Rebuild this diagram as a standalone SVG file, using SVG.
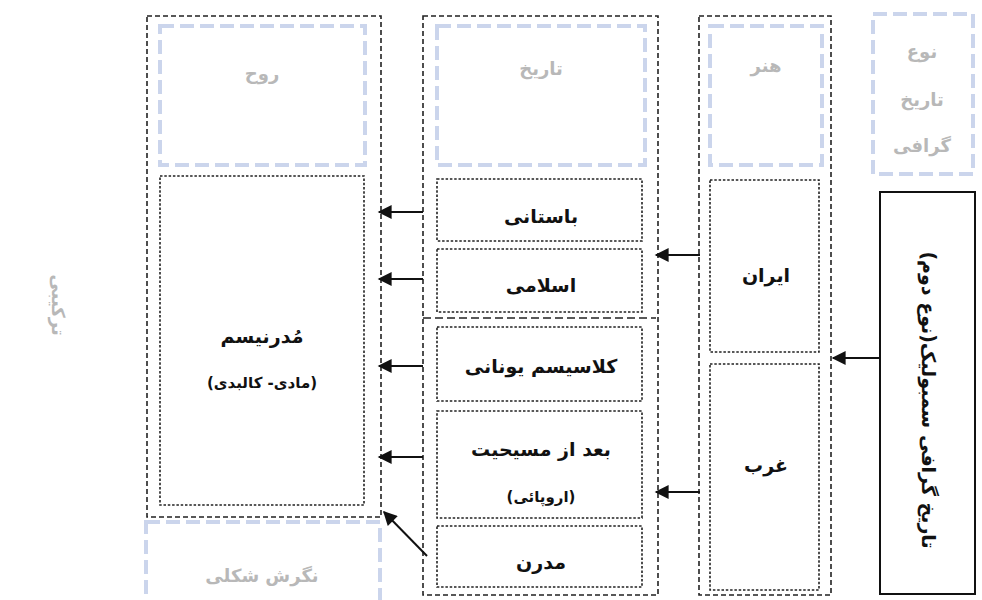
<svg xmlns="http://www.w3.org/2000/svg" width="982" height="600" viewBox="0 0 982 600">
<defs>
<style>
.outer{fill:none;stroke:#222;stroke-width:1.6;stroke-dasharray:5 3}
.inner{fill:#fff;stroke:#222;stroke-width:1.6;stroke-dasharray:2.5 1.8}
.faint{fill:#fff;stroke:#cbd5ec;stroke-width:4;stroke-dasharray:14 6}
.t{font-family:"DejaVu Sans",sans-serif;font-weight:bold;font-size:19px;fill:#111;text-anchor:middle}
.s{font-size:15px}
.g{font-family:"DejaVu Sans",sans-serif;font-weight:bold;font-size:18px;fill:#b8b8b8;text-anchor:middle}
.con{stroke:#111;stroke-width:2;fill:none}
</style>
<marker id="ah" viewBox="0 0 10 10" refX="9" refY="5" markerWidth="8.5" markerHeight="7" markerUnits="strokeWidth" orient="auto">
<path d="M0,0 L10,5 L0,10 z" fill="#111"/>
</marker>
</defs>
<rect width="982" height="600" fill="#fff"/>

<g id="col-left">
<rect class="outer" x="147" y="16" width="234" height="501"/>
<g id="n-ruh"><rect class="faint" x="160" y="26" width="205" height="139"/><text class="g" x="262" y="80">روح</text></g>
<g id="n-modernism"><rect class="inner" x="160" y="176" width="204" height="329"/>
<text class="t" x="262" y="343">مُدرنیسم</text>
<text class="t s" x="262" y="388">(مادی- کالبدی)</text></g>
</g>
<g id="n-negaresh"><rect class="faint" x="146" y="522" width="234" height="82"/><text class="g" x="262" y="582">نگرش شکلی</text></g>
<g id="n-tarkibi"><text class="g" transform="translate(52,305) rotate(90)" font-size="16">ترکیبی</text></g>

<g id="col-mid">
<rect class="outer" x="423" y="16" width="235" height="579"/>
<line x1="423" y1="318" x2="656" y2="318" stroke="#222" stroke-width="1.6" stroke-dasharray="8 4"/>
<g id="n-tarikh"><rect class="faint" x="437" y="26" width="208" height="139"/><text class="g" x="541" y="75">تاریخ</text></g>
<g id="n-bastani"><rect class="inner" x="437" y="179" width="205" height="62"/><text class="t" x="541" y="223">باستانی</text></g>
<g id="n-eslami"><rect class="inner" x="437" y="249" width="205" height="63"/><text class="t" x="541" y="292">اسلامی</text></g>
<g id="n-classic"><rect class="inner" x="437" y="327" width="205" height="74"/><text class="t" x="541" y="373">کلاسیسم یونانی</text></g>
<g id="n-masihiyat"><rect class="inner" x="437" y="411" width="205" height="107"/><text class="t" x="541" y="456">بعد از مسیحیت</text><text class="t s" x="541" y="502">(اروپائی)</text></g>
<g id="n-modern"><rect class="inner" x="437" y="526" width="205" height="61"/><text class="t" x="541" y="569">مدرن</text></g>
</g>

<g id="col-right">
<rect class="outer" x="699" y="16" width="132" height="579"/>
<g id="n-honar"><rect class="faint" x="710" y="26" width="112" height="139"/><text class="g" x="766" y="72">هنر</text></g>
<g id="n-iran"><rect class="inner" x="710" y="180" width="109" height="172"/><text class="t" x="766" y="282">ایران</text></g>
<g id="n-gharb"><rect class="inner" x="710" y="364" width="109" height="226"/><text class="t" x="766" y="472">غرب</text></g>
</g>

<g id="n-type"><rect class="faint" x="873" y="14" width="100" height="160"/>
<text class="g" x="922" y="58" font-size="14" font-weight="normal">نوع</text>
<text class="g" x="922" y="106" font-size="14" font-weight="normal">تاریخ</text>
<text class="g" x="922" y="152" font-size="14" font-weight="normal">گرافی</text></g>

<g id="n-main"><rect x="880" y="192" width="95" height="402" fill="#fff" stroke="#111" stroke-width="2"/>
<text class="t" transform="translate(922,400) rotate(90)">تاریخ گرافی سمبولیک(نوع دوم)</text></g>

<g id="connectors">
<line class="con" x1="423" y1="212" x2="379" y2="212" marker-end="url(#ah)"/>
<line class="con" x1="423" y1="279" x2="379" y2="279" marker-end="url(#ah)"/>
<line class="con" x1="423" y1="366" x2="379" y2="366" marker-end="url(#ah)"/>
<line class="con" x1="423" y1="457" x2="379" y2="457" marker-end="url(#ah)"/>
<line class="con" x1="427" y1="556" x2="384" y2="512" marker-end="url(#ah)"/>
<line class="con" x1="700" y1="255" x2="656" y2="255" marker-end="url(#ah)"/>
<line class="con" x1="700" y1="492" x2="656" y2="492" marker-end="url(#ah)"/>
<line class="con" x1="880" y1="358" x2="833" y2="358" marker-end="url(#ah)"/>
</g>
</svg>
